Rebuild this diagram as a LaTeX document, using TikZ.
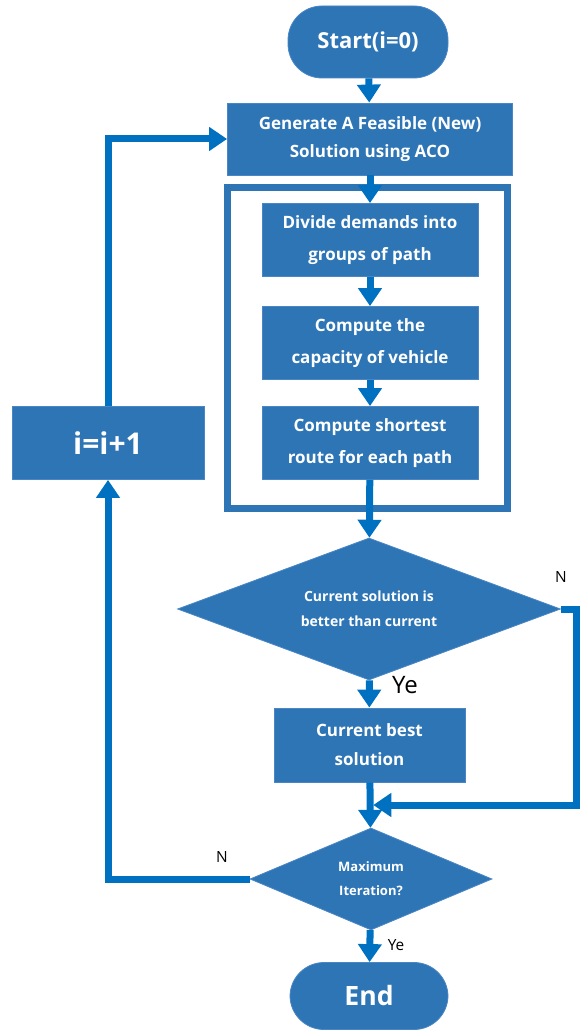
\documentclass[tikz,border=0pt]{standalone}
\usepackage{fontspec}
\setmainfont{Open Sans}
\usepackage{xcolor}
\usetikzlibrary{arrows.meta, shapes.geometric, calc}
\definecolor{boxblue}{HTML}{2E75B6}
\definecolor{edgeblue}{HTML}{4A86C5}
\definecolor{lineblue}{HTML}{0070C0}

\begin{document}
\begin{tikzpicture}[x=0.5pt, y=-0.5pt,
  box/.style={rectangle, fill=boxblue, draw=edgeblue, line width=0.4pt, text=white,
    font=\fontsize{8.5}{16}\selectfont\bfseries, align=center, inner sep=0pt},
  term/.style={box, rounded corners=17pt, font=\fontsize{11}{13}\selectfont\bfseries},
  decision/.style={diamond, fill=boxblue, draw=edgeblue, line width=0.4pt, text=white,
    font=\fontsize{7}{12.5}\selectfont\bfseries, align=center, inner sep=0pt, aspect=2.6},
  flow/.style={draw=lineblue, line width=3.5pt},
  arr/.style={flow, -{Triangle[width=11.5pt,length=9pt]}},
  lbl/.style={text=black, inner sep=0pt}]
\useasboundingbox (0,0) rectangle (580,1036);

% main column
\node[term, minimum width=80pt, minimum height=36pt] (start) at (368,42) {Start(i=0)};
\node[box, minimum width=142.5pt, minimum height=36pt,
  font=\fontsize{8.5}{14}\selectfont\bfseries] (gen) at (370,139)
  {Generate A Feasible (New)\\Solution using ACO};
\node[box, minimum width=108pt, minimum height=36.5pt] (div) at (370,240)
  {Divide demands into\\groups of path};
\node[box, minimum width=108pt, minimum height=36.5pt] (cap) at (370,343)
  {Compute the\\capacity of vehicle};
\node[box, minimum width=108pt, minimum height=36.5pt] (short) at (370,443)
  {Compute shortest\\route for each path};
\node[draw=boxblue, line width=3.5pt, minimum width=140pt, minimum height=160pt,
  inner sep=0pt] (frame) at (367,348) {};
\node[decision, minimum width=191.5pt, minimum height=71pt] (better) at (369,609)
  {Current solution is\\better than current};
\node[box, minimum width=95.5pt, minimum height=37pt,
  font=\fontsize{8.5}{14.5}\selectfont\bfseries] (best) at (369.5,745)
  {Current best\\solution};
\node[decision, minimum width=121pt, minimum height=51pt,
  font=\fontsize{6.5}{12}\selectfont\bfseries] (maxit) at (371,879)
  {Maximum\\Iteration?};
\node[term, minimum width=79pt, minimum height=33.5pt,
  font=\fontsize{13.3}{16}\selectfont\bfseries] (stop) at (369,996) {End};

% loop counter
\node[box, minimum width=96pt, minimum height=36.5pt,
  font=\fontsize{15}{18}\selectfont\bfseries] (inc) at (108,443) {i=i+1};

\coordinate (join) at ($(best.south)!0.5!(maxit.north)$);

% connectors
\draw[arr] (start) -- (gen);
\draw[arr] (gen) -- (div);
\draw[arr] (div) -- (cap);
\draw[arr] (cap) -- (short);
\draw[arr] (short) -- (better);
\draw[arr] (better) -- (best);
\node[lbl, font=\fontsize{12}{14}\selectfont] (ye1) at (405,685) {Ye};
\draw[arr] (best) -- (maxit);
\draw[arr, shorten >=1.5pt] (better.east) -- ++(16,0) |- (join);
\node[lbl, font=\fontsize{7.7}{9}\selectfont] (n1) at (561,577) {N};
\draw[arr] (maxit) -- (stop);
\node[lbl, font=\fontsize{7.7}{9}\selectfont] (ye2) at (396,945) {Ye};
\draw[arr] (maxit.west) -| (inc.south);
\node[lbl, font=\fontsize{7.7}{9}\selectfont] (n2) at (222,857) {N};
\draw[arr] (inc.north) |- (gen.west);
\end{tikzpicture}
\end{document}
